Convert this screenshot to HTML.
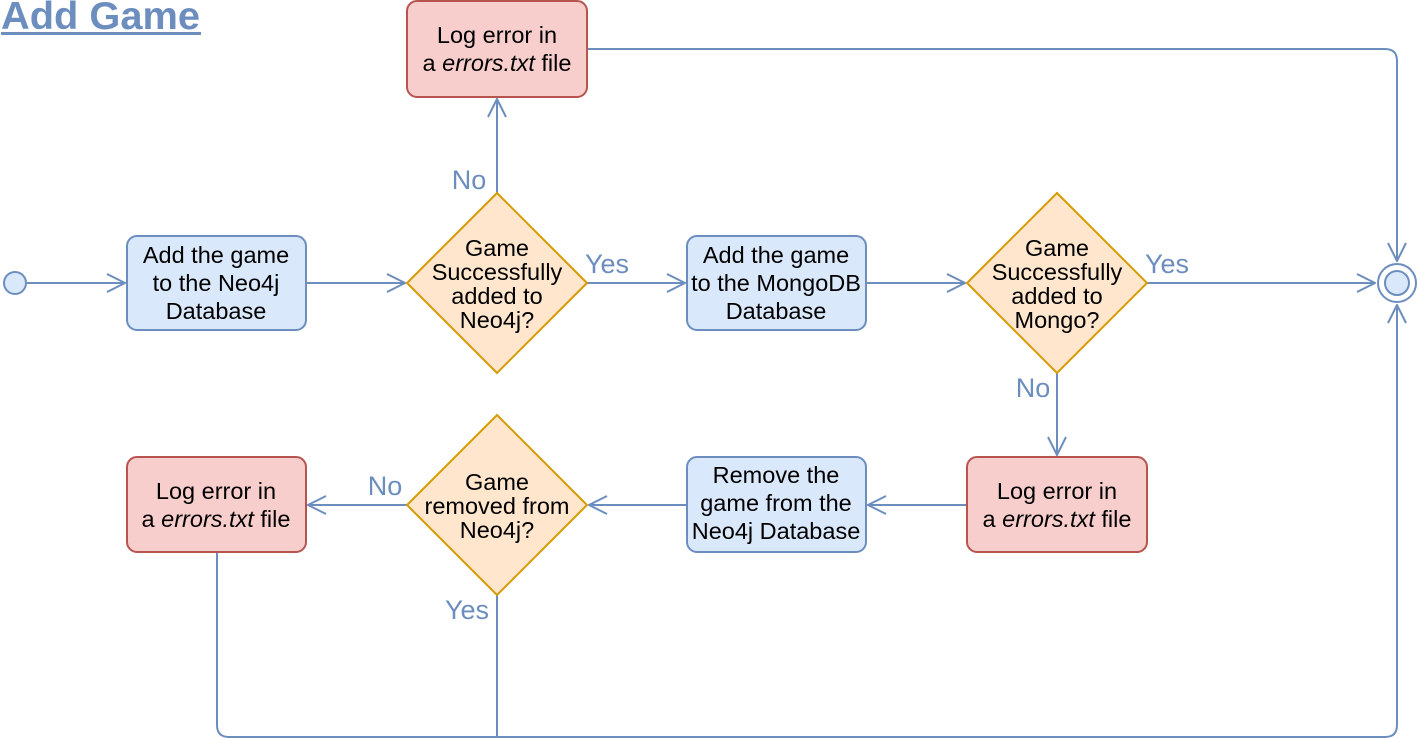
<!DOCTYPE html>
<html><head><meta charset="utf-8"><style>
html,body{margin:0;padding:0;background:#fff;}
svg{display:block;}
text{font-family:"Liberation Sans",sans-serif;}
</style></head><body>
<svg width="1418" height="738" viewBox="0 0 1418 738" xmlns="http://www.w3.org/2000/svg">
<defs>
<marker id="a" viewBox="0 0 20 20" refX="19" refY="10" markerWidth="20" markerHeight="20" markerUnits="userSpaceOnUse" orient="auto">
<path d="M1,1 L19,10 L1,19" fill="none" stroke="#6c8ebf" stroke-width="2"/>
</marker>
</defs>
<text x="1" y="29" font-size="39" font-weight="bold" fill="#6c8ebf" textLength="199" lengthAdjust="spacingAndGlyphs">Add Game</text>
<rect x="1" y="32" width="200" height="3" fill="#6c8ebf"/>
<g fill="none" stroke="#6c8ebf" stroke-width="2">
<path d="M27,283 H125" marker-end="url(#a)"/>
<path d="M306,283 H405" marker-end="url(#a)"/>
<path d="M587,283 H685" marker-end="url(#a)"/>
<path d="M497,193 V99" marker-end="url(#a)"/>
<path d="M587,49 H1385 Q1397,49 1397,61 V261" marker-end="url(#a)"/>
<path d="M866,283 H965" marker-end="url(#a)"/>
<path d="M1147,283 H1375" marker-end="url(#a)"/>
<path d="M1057,373 V455" marker-end="url(#a)"/>
<path d="M967,505 H868" marker-end="url(#a)"/>
<path d="M687,505 H589" marker-end="url(#a)"/>
<path d="M407,505 H308" marker-end="url(#a)"/>
<path d="M217,552 V725 Q217,737 229,737 H1385 Q1397,737 1397,725 V305" marker-end="url(#a)"/>
<path d="M497,595 V737"/>
</g>
<circle cx="15" cy="283" r="11" fill="#dae8fc" stroke="#6c8ebf" stroke-width="2"/>
<circle cx="1397" cy="283" r="19" fill="#fff" stroke="#6c8ebf" stroke-width="2"/>
<circle cx="1397" cy="283" r="12" fill="#dae8fc" stroke="#6c8ebf" stroke-width="2"/>
<g stroke-width="2">
<rect x="127" y="236" width="179" height="94" rx="10" fill="#dae8fc" stroke="#6c8ebf"/>
<rect x="687" y="236" width="179" height="94" rx="10" fill="#dae8fc" stroke="#6c8ebf"/>
<rect x="687" y="457" width="179" height="95" rx="10" fill="#dae8fc" stroke="#6c8ebf"/>
<rect x="407" y="1" width="180" height="96" rx="10" fill="#f8cecc" stroke="#b85450"/>
<rect x="967" y="457" width="180" height="95" rx="10" fill="#f8cecc" stroke="#b85450"/>
<rect x="127" y="457" width="179" height="95" rx="10" fill="#f8cecc" stroke="#b85450"/>
<path d="M497,193 L587,283 L497,373 L407,283 Z" fill="#ffe6cc" stroke="#d79b00"/>
<path d="M1057,193 L1147,283 L1057,373 L967,283 Z" fill="#ffe6cc" stroke="#d79b00"/>
<path d="M497,415 L587,505 L497,595 L407,505 Z" fill="#ffe6cc" stroke="#d79b00"/>
</g>
<g font-size="23.5" fill="#000" text-anchor="middle">
<text x="216" y="263">Add the game</text><text x="216" y="291">to the Neo4j</text><text x="216" y="319">Database</text>
<text x="776" y="263">Add the game</text><text x="776" y="291">to the MongoDB</text><text x="776" y="319">Database</text>
<text x="776" y="483">Remove the</text><text x="776" y="511">game from the</text><text x="776" y="539">Neo4j Database</text>
<text x="497" y="43">Log error in</text><text x="497" y="71">a <tspan font-style="italic">errors.txt</tspan> file</text>
<text x="1057" y="499">Log error in</text><text x="1057" y="527">a <tspan font-style="italic">errors.txt</tspan> file</text>
<text x="216" y="499">Log error in</text><text x="216" y="527">a <tspan font-style="italic">errors.txt</tspan> file</text>
<text x="497" y="256">Game</text><text x="497" y="280">Successfully</text><text x="497" y="304">added to</text><text x="497" y="328">Neo4j?</text>
<text x="1057" y="256">Game</text><text x="1057" y="280">Successfully</text><text x="1057" y="304">added to</text><text x="1057" y="328">Mongo?</text>
<text x="497" y="490">Game</text><text x="497" y="514">removed from</text><text x="497" y="538">Neo4j?</text>
</g>
<g font-size="27" fill="#6c8ebf" text-anchor="middle">
<text x="607" y="273">Yes</text>
<text x="1167" y="273">Yes</text>
<text x="469" y="189">No</text>
<text x="1033" y="397">No</text>
<text x="385" y="495">No</text>
<text x="467" y="619">Yes</text>
</g>
</svg>
</body></html>
